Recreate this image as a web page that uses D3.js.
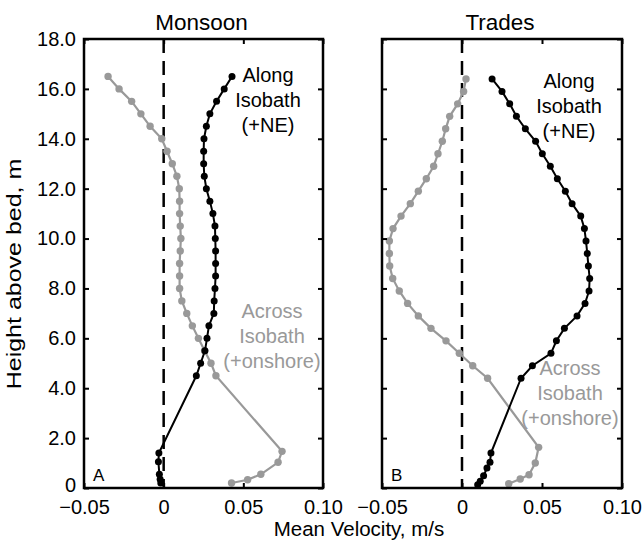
<!DOCTYPE html>
<html>
<head>
<meta charset="utf-8">
<script src="https://cdn.jsdelivr.net/npm/d3@7"></script>
<style>
  html, body { margin: 0; padding: 0; background: #fff; }
  svg { display: block; font-family: "Liberation Sans", Arial, Helvetica, sans-serif; }
</style>
</head>
<body>
<svg id="chart" width="644" height="540"></svg>
<script>
// ---------- DATA ----------
const panelTitles = ["Monsoon", "Trades"];
const panelLetters = ["A", "B"];
const xTickValues = [-0.05, 0, 0.05, 0.10];
const xTickLabels = ["\u22120.05", "0", "0.05", "0.10"];
const yTickValues = [0, 2, 4, 6, 8, 10, 12, 14, 16, 18];
const yTickLabels = ["0", "2.0", "4.0", "6.0", "8.0", "10.0", "12.0", "14.0", "16.0", "18.0"];

// Monsoon (panel A)
const monsoonHeights = [16.5, 16.0, 15.5, 15.0, 14.5, 14.0, 13.5, 13.0, 12.5, 12.0, 11.5, 11.0, 10.5,
  10.0, 9.5, 9.0, 8.5, 8.0, 7.5, 7.0, 6.5, 6.0, 5.5, 5.0, 4.5];
const monsoonAlong = [0.0429, 0.0380, 0.0332, 0.0290, 0.0268, 0.0253, 0.0251, 0.0251, 0.0255, 0.0268,
  0.0290, 0.0309, 0.0322, 0.0324, 0.0326, 0.0326, 0.0326, 0.0322, 0.0317, 0.0315, 0.0284, 0.0272,
  0.0259, 0.0232, 0.0205];
const monsoonAcross = [-0.0349, -0.0280, -0.0201, -0.0143, -0.0085, -0.0012, 0.0021, 0.0054, 0.0083,
  0.0098, 0.0100, 0.0100, 0.0104, 0.0108, 0.0104, 0.0100, 0.0100, 0.0100, 0.0114, 0.0145, 0.0180,
  0.0218, 0.0257, 0.0297, 0.0328];
const monsoonAlongBedHeights = [1.4, 1.05, 0.55, 0.35, 0.2];
const monsoonAlongBed = [-0.0030, -0.0033, -0.0027, -0.0022, -0.0018];
const monsoonAcrossBedHeights = [1.47, 1.03, 0.55, 0.33, 0.2];
const monsoonAcrossBed = [0.0743, 0.0718, 0.0610, 0.0527, 0.0426];

// Trades (panel B)
const tradesHeights = [16.4, 15.9, 15.4, 14.9, 14.4, 13.9, 13.4, 12.9, 12.4, 11.9, 11.4, 10.9, 10.4,
  9.9, 9.4, 8.9, 8.4, 7.9, 7.4, 6.9, 6.4, 5.9, 5.4, 4.9, 4.4];
const tradesAlong = [0.0188, 0.0250, 0.0298, 0.0340, 0.0396, 0.0460, 0.0502, 0.0552, 0.0596, 0.0646,
  0.0688, 0.0742, 0.0765, 0.0775, 0.0783, 0.0790, 0.0798, 0.0794, 0.0769, 0.0719, 0.0640, 0.0590,
  0.0556, 0.0440, 0.0369];
const tradesAcross = [0.0025, 0.0010, -0.0027, -0.0077, -0.0102, -0.0123, -0.0150, -0.0177, -0.0223,
  -0.0273, -0.0323, -0.0381, -0.0431, -0.0454, -0.0454, -0.0452, -0.0433, -0.0392, -0.0340, -0.0273,
  -0.0194, -0.0100, -0.0017, 0.0067, 0.0160];
const tradesAlongBedHeights = [1.4, 1.03, 0.8, 0.49, 0.27, 0.13];
const tradesAlongBed = [0.0181, 0.0175, 0.0156, 0.0135, 0.0114, 0.0098];
const tradesAcrossBedHeights = [1.63, 1.0, 0.53, 0.36, 0.17];
const tradesAcrossBed = [0.0479, 0.0458, 0.0419, 0.0364, 0.0292];

const alongLabel = ["Along", "Isobath", "(+NE)"];
const acrossLabel = ["Across", "Isobath", "(+onshore)"];
const yAxisTitle = "Height above bed, m";
const xAxisTitle = "Mean Velocity, m/s";

// ---------- LAYOUT ----------
const svg = d3.select("#chart");
const BLACK = "#000", GRAY = "#999999";
const plotTop = 39, plotBottom = 488;
const panels = [
  { x0: 84, x1: 323, heights: monsoonHeights, along: monsoonAlong, across: monsoonAcross,
    alongBedH: monsoonAlongBedHeights, alongBed: monsoonAlongBed,
    acrossBedH: monsoonAcrossBedHeights, acrossBed: monsoonAcrossBed,
    alongPos: [268, 82], acrossPos: [272, 318], showY: true },
  { x0: 382, x1: 622, heights: tradesHeights, along: tradesAlong, across: tradesAcross,
    alongBedH: tradesAlongBedHeights, alongBed: tradesAlongBed,
    acrossBedH: tradesAcrossBedHeights, acrossBed: tradesAcrossBed,
    alongPos: [569, 88], acrossPos: [570, 375], showY: false }
];

const y = d3.scaleLinear().domain([0, 18]).range([plotBottom, plotTop]);

panels.forEach((p, i) => {
  const x = d3.scaleLinear().domain([-0.05, 0.10]).range([p.x0, p.x1]);
  const g = svg.append("g");

  // zero dashed line
  g.append("line")
    .attr("x1", x(0)).attr("x2", x(0)).attr("y1", y(18)).attr("y2", y(0))
    .attr("stroke", BLACK).attr("stroke-width", 2.5).attr("stroke-dasharray", "14,8");

  const line = d3.line().x(d => x(d.v)).y(d => y(d.h));
  const series = [
    { color: GRAY, pts: p.heights.map((h, k) => ({ h, v: p.across[k] }))
        .concat(p.acrossBedH.map((h, k) => ({ h, v: p.acrossBed[k] }))), w: 2.2, r: 3.7 },
    { color: BLACK, pts: p.heights.map((h, k) => ({ h, v: p.along[k] }))
        .concat(p.alongBedH.map((h, k) => ({ h, v: p.alongBed[k] }))), w: 2, r: 3.5 }
  ];
  series.forEach(s => {
    g.append("path").datum(s.pts).attr("d", line)
      .attr("fill", "none").attr("stroke", s.color).attr("stroke-width", s.w);
    g.selectAll(null).data(s.pts).enter().append("circle")
      .attr("cx", d => x(d.v)).attr("cy", d => y(d.h)).attr("r", s.r).attr("fill", s.color);
  });

  // axes
  const axB = d3.axisBottom(x).tickValues(xTickValues).tickSize(-5).tickPadding(12)
    .tickFormat((d, k) => xTickLabels[k]);
  const gb = g.append("g").attr("transform", `translate(0,${plotBottom})`).call(axB);
  const axT = d3.axisTop(x).tickValues(xTickValues).tickSize(-5).tickFormat("");
  const gt = g.append("g").attr("transform", `translate(0,${plotTop})`).call(axT);
  const axL = d3.axisLeft(y).tickValues(yTickValues).tickSize(-5).tickPadding(8)
    .tickFormat((d, k) => p.showY ? yTickLabels[k] : "");
  const gl = g.append("g").attr("transform", `translate(${p.x0},0)`).call(axL);
  const axR = d3.axisRight(y).tickValues(yTickValues).tickSize(-5).tickFormat("");
  const gr = g.append("g").attr("transform", `translate(${p.x1},0)`).call(axR);
  [gb, gt, gl, gr].forEach(a => {
    a.select(".domain").remove();
    a.selectAll(".tick line").attr("stroke", BLACK).attr("stroke-width", 2);
    a.selectAll(".tick text").attr("fill", BLACK).style("font-size", "20px")
      .style("font-family", "'Liberation Sans', Arial, sans-serif");
  });
  gb.selectAll(".tick text").attr("dy", "0.71em");
  // the "0" height label sits slightly raised, as in the reference
  gl.selectAll(".tick text").filter(d => d === 0).attr("dy", "0.16em");

  // frame
  g.append("rect").attr("x", p.x0).attr("y", plotTop).attr("width", p.x1 - p.x0).attr("height", plotBottom - plotTop)
    .attr("fill", "none").attr("stroke", BLACK).attr("stroke-width", 2.5);

  // title
  g.append("text").attr("x", (p.x0 + p.x1) / 2 - 2).attr("y", 30).attr("text-anchor", "middle")
    .style("font-size", "22.5px").text(panelTitles[i]);

  // letter
  g.append("text").attr("x", p.x0 + 9).attr("y", 481).style("font-size", "17px").text(panelLetters[i]);

  // annotations
  alongLabel.forEach((t, k) => {
    g.append("text").attr("x", p.alongPos[0]).attr("y", p.alongPos[1] + k * 25)
      .attr("text-anchor", "middle").attr("fill", BLACK).style("font-size", "20px").text(t);
  });
  acrossLabel.forEach((t, k) => {
    g.append("text").attr("x", p.acrossPos[0]).attr("y", p.acrossPos[1] + k * 25)
      .attr("text-anchor", "middle").attr("fill", GRAY).style("font-size", "20px").text(t);
  });
});

// axis titles
svg.append("text").attr("x", 359).attr("y", 536).attr("text-anchor", "middle")
  .style("font-size", "20.5px").text(xAxisTitle);
svg.append("text").attr("transform", "translate(21,274) rotate(-90) scale(1.25,1)")
  .attr("text-anchor", "middle").style("font-size", "20px").text(yAxisTitle);
</script>
</body>
</html>
